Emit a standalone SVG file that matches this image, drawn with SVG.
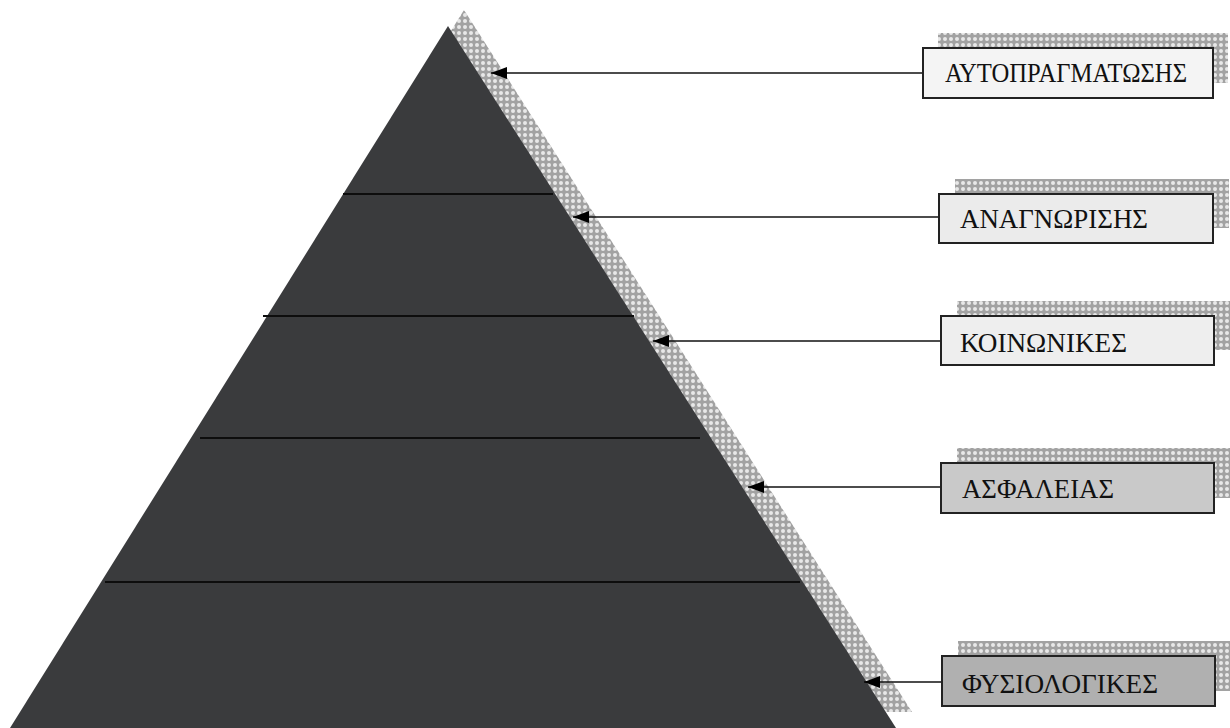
<svg xmlns="http://www.w3.org/2000/svg" width="1230" height="728" viewBox="0 0 1230 728">
<defs>
<pattern id="dots" width="6" height="6" patternUnits="userSpaceOnUse">
<rect width="6" height="6" fill="#a2a2a2"/>
<circle cx="3" cy="3" r="2" fill="#e8e8e8"/>
</pattern>
<marker id="arr" markerWidth="16" markerHeight="12" refX="16" refY="6" orient="auto" markerUnits="userSpaceOnUse">
<path d="M0,0 L16,6 L0,12 Z" fill="#000"/>
</marker>
<style>
.lvl{stroke:#0d0d0d;stroke-width:2;fill:none}
.conn{stroke:#111;stroke-width:1.5;fill:none;marker-end:url(#arr)}
.box{stroke:#222;stroke-width:2}
.shd{fill:url(#dots)}
.lbl{font-family:"Liberation Serif","Times New Roman",serif;font-size:27px;fill:#111}
</style>
</defs>
<rect width="1230" height="728" fill="#ffffff"/>
<g id="pyramid">
<polygon class="shd" points="464,10 26,712 912,712"/>
<polygon points="448,26 10,728 896,728" fill="#3a3b3d"/>
<line class="lvl" x1="343" y1="194" x2="553" y2="194"/>
<line class="lvl" x1="263" y1="316" x2="634" y2="316"/>
<line class="lvl" x1="200" y1="438" x2="700" y2="438"/>
<line class="lvl" x1="105" y1="582" x2="800" y2="582"/>
</g>
<g id="connectors">
<line class="conn" x1="923" y1="73" x2="491" y2="73"/>
<line class="conn" x1="939" y1="217" x2="573" y2="217"/>
<line class="conn" x1="941" y1="341" x2="653" y2="341"/>
<line class="conn" x1="941" y1="487" x2="748" y2="487"/>
<line class="conn" x1="942" y1="682" x2="864" y2="682"/>
</g>
<g id="n1">
<rect class="shd" x="938" y="33" width="290" height="50"/>
<rect class="box" x="923" y="48" width="290" height="50" fill="#f4f4f4"/>
<text class="lbl" x="945" y="82" textLength="242" lengthAdjust="spacingAndGlyphs">ΑΥΤΟΠΡΑΓΜΑΤΩΣΗΣ</text>
</g>
<g id="n2">
<rect class="shd" x="955" y="179" width="274" height="49"/>
<rect class="box" x="939" y="194" width="274" height="49" fill="#ebebeb"/>
<text class="lbl" x="960" y="228" textLength="188" lengthAdjust="spacingAndGlyphs">ΑΝΑΓΝΩΡΙΣΗΣ</text>
</g>
<g id="n3">
<rect class="shd" x="957" y="301" width="273" height="49"/>
<rect class="box" x="941" y="316" width="273" height="49" fill="#eeeeee"/>
<text class="lbl" x="960" y="352" textLength="167" lengthAdjust="spacingAndGlyphs">ΚΟΙΝΩΝΙΚΕΣ</text>
</g>
<g id="n4">
<rect class="shd" x="957" y="448" width="273" height="50"/>
<rect class="box" x="941" y="463" width="273" height="50" fill="#c9c9c9"/>
<text class="lbl" x="962" y="498" textLength="152" lengthAdjust="spacingAndGlyphs">ΑΣΦΑΛΕΙΑΣ</text>
</g>
<g id="n5">
<rect class="shd" x="958" y="641" width="272" height="50"/>
<rect class="box" x="942" y="656" width="273" height="50" fill="#b0b0b0"/>
<text class="lbl" x="962" y="693" textLength="196" lengthAdjust="spacingAndGlyphs">ΦΥΣΙΟΛΟΓΙΚΕΣ</text>
</g>
</svg>
